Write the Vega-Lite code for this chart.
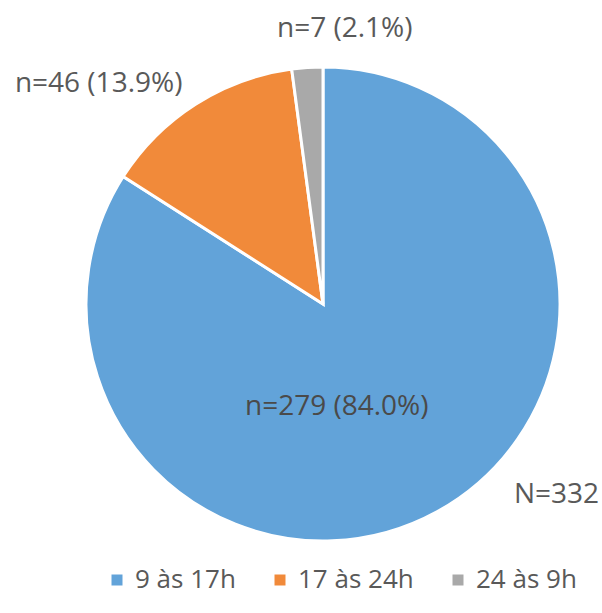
{
  "$schema": "https://vega.github.io/schema/vega-lite/v6.json",
  "width": 474,
  "height": 474,
  "autosize": "none",
  "padding": {"left": 86, "top": 67, "right": 42, "bottom": 72},
  "background": "white",
  "config": {"view": {"stroke": null}, "font": "Open Sans"},
  "data": {
    "values": [
      {"period": "9 às 17h", "n": 279, "label": "n=279 (84.0%)"},
      {"period": "17 às 24h", "n": 46, "label": "n=46 (13.9%)"},
      {"period": "24 às 9h", "n": 7, "label": "n=7 (2.1%)"}
    ]
  },
  "layer": [
    {
      "mark": {"type": "arc", "outerRadius": 237, "stroke": "white", "strokeWidth": 3},
      "encoding": {
        "theta": {"field": "n", "type": "quantitative", "stack": true},
        "order": {"field": "n", "type": "quantitative", "sort": "descending"},
        "color": {
          "field": "period",
          "type": "nominal",
          "sort": ["9 às 17h", "17 às 24h", "24 às 9h"],
          "scale": {"domain": ["9 às 17h", "17 às 24h", "24 às 9h"], "range": ["#62A3D9", "#F18A3A", "#A9A9A9"]},
          "legend": {
            "orient": "none",
            "legendX": 18,
            "legendY": 500,
            "direction": "horizontal",
            "title": null,
            "padding": 0,
            "symbolType": "square",
            "symbolSize": 121,
            "symbolStrokeWidth": 0,
            "symbolOpacity": 1,
            "labelFontSize": 26,
            "labelFont": "Open Sans",
            "labelColor": "#595959",
            "labelOffset": 5,
            "columnPadding": 31
          }
        }
      }
    },
    {
      "mark": {"type": "text", "radius": 118, "dx": -43, "fontSize": 28, "font": "Open Sans", "color": "#4a4a4a"},
      "encoding": {
        "theta": {"field": "n", "type": "quantitative", "stack": true},
        "order": {"field": "n", "type": "quantitative", "sort": "descending"},
        "text": {"condition": {"test": "datum.period === '9 às 17h'", "field": "label", "type": "nominal"}, "value": ""}
      }
    },
    {
      "mark": {"type": "text", "radius": 261, "dx": -84, "fontSize": 28, "font": "Open Sans", "color": "#595959"},
      "encoding": {
        "theta": {"field": "n", "type": "quantitative", "stack": true},
        "order": {"field": "n", "type": "quantitative", "sort": "descending"},
        "text": {"condition": {"test": "datum.period === '17 às 24h'", "field": "label", "type": "nominal"}, "value": ""}
      }
    },
    {
      "mark": {"type": "text", "radius": 275.6, "dx": 40, "fontSize": 28, "font": "Open Sans", "color": "#595959"},
      "encoding": {
        "theta": {"field": "n", "type": "quantitative", "stack": true},
        "order": {"field": "n", "type": "quantitative", "sort": "descending"},
        "text": {"condition": {"test": "datum.period === '24 às 9h'", "field": "label", "type": "nominal"}, "value": ""}
      }
    },
    {
      "data": {"values": [{"note": "N=332"}]},
      "mark": {"type": "text", "dx": 233.5, "dy": 191, "fontSize": 28, "font": "Open Sans", "color": "#595959"},
      "encoding": {
        "text": {"field": "note", "type": "nominal"}
      }
    }
  ]
}
